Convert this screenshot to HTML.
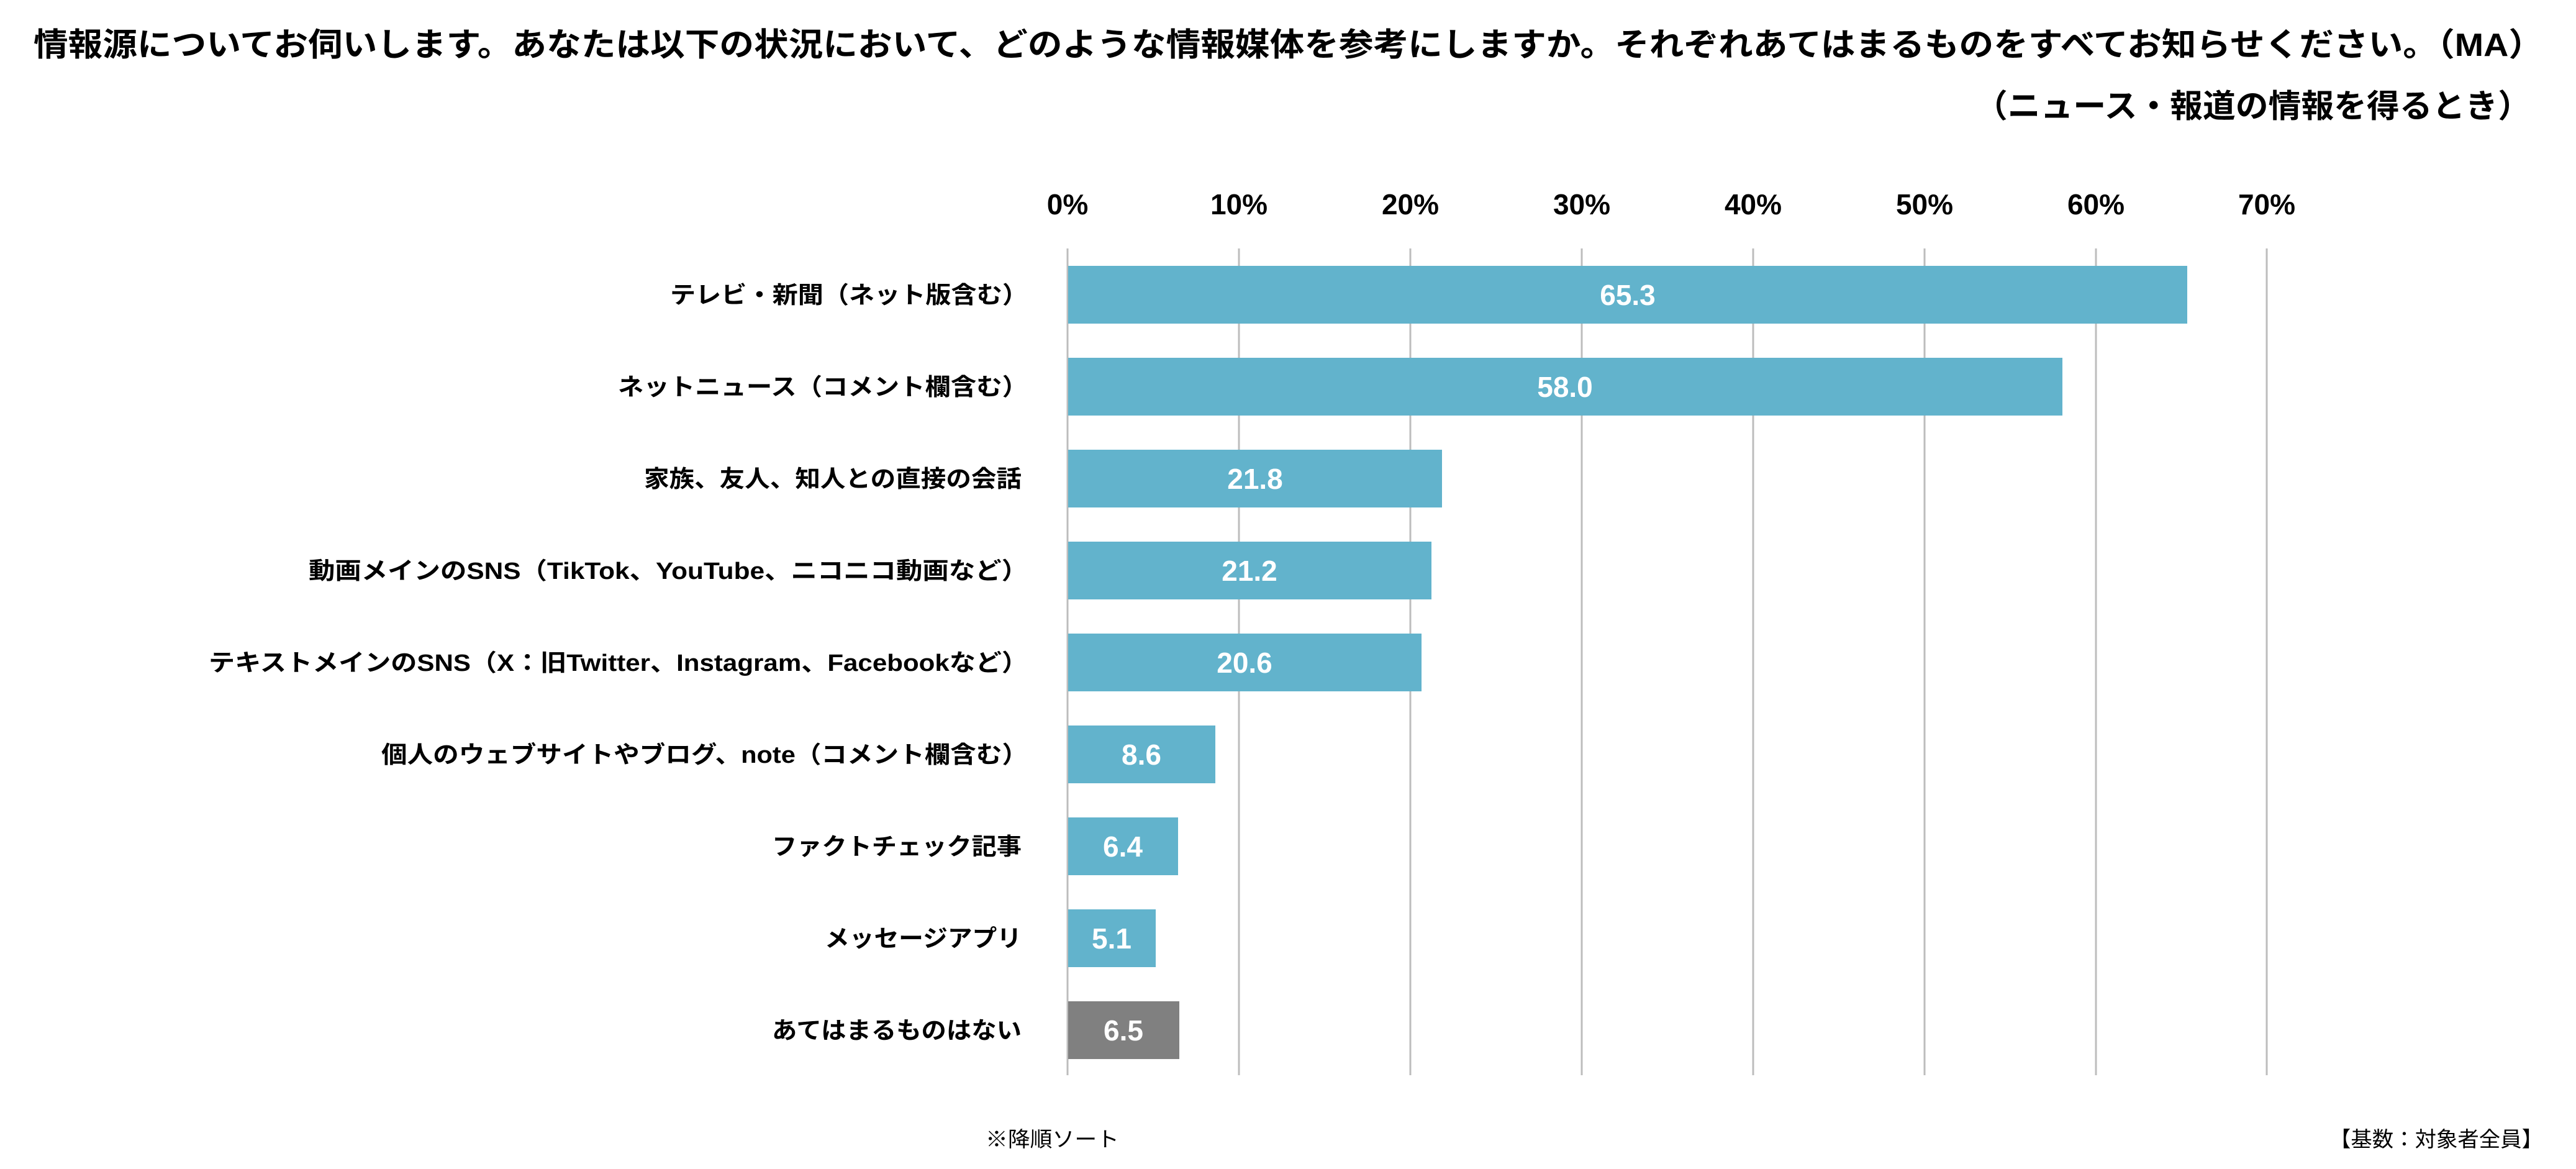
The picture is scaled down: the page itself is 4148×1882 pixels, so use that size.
<!DOCTYPE html>
<html><head><meta charset="utf-8"><style>
html,body{margin:0;padding:0;background:#fff;}
svg{display:block;}
text{font-family:"Liberation Sans","Noto Sans CJK JP",sans-serif;}
</style></head><body>
<svg width="4148" height="1882" viewBox="0 0 4148 1882" xmlns="http://www.w3.org/2000/svg">
<rect width="4148" height="1882" fill="#fff"/>
<g font-weight="bold" fill="#000">
<text x="54" y="90" font-size="52" textLength="4041" lengthAdjust="spacingAndGlyphs">情報源についてお伺いします。あなたは以下の状況において、どのような情報媒体を参考にしますか。それぞれあてはまるものをすべてお知らせください。（MA）</text>
<text x="3180" y="189" font-size="52" textLength="895" lengthAdjust="spacingAndGlyphs">（ニュース・報道の情報を得るとき）</text>
</g>
<g stroke="#bdbdbd" stroke-width="3">
<line x1="1719" y1="400" x2="1719" y2="1731"/>
<line x1="1995" y1="400" x2="1995" y2="1731"/>
<line x1="2271" y1="400" x2="2271" y2="1731"/>
<line x1="2547" y1="400" x2="2547" y2="1731"/>
<line x1="2823" y1="400" x2="2823" y2="1731"/>
<line x1="3099" y1="400" x2="3099" y2="1731"/>
<line x1="3375" y1="400" x2="3375" y2="1731"/>
<line x1="3650" y1="400" x2="3650" y2="1731"/>
</g>
<g font-weight="bold" font-size="46" text-anchor="middle" fill="#000">
<text x="1719" y="345">0%</text>
<text x="1995" y="345">10%</text>
<text x="2271" y="345">20%</text>
<text x="2547" y="345">30%</text>
<text x="2823" y="345">40%</text>
<text x="3099" y="345">50%</text>
<text x="3375" y="345">60%</text>
<text x="3650" y="345">70%</text>
</g>
<g fill="#62b3cc">
<rect x="1720" y="428" width="1802" height="93"/>
<rect x="1720" y="576" width="1601" height="93"/>
<rect x="1720" y="724" width="602" height="93"/>
<rect x="1720" y="872" width="585" height="93"/>
<rect x="1720" y="1020" width="569" height="93"/>
<rect x="1720" y="1168" width="237" height="93"/>
<rect x="1720" y="1316" width="177" height="93"/>
<rect x="1720" y="1464" width="141" height="93"/>
</g>
<rect x="1720" y="1612" width="179" height="93" fill="#808080"/>
<g font-weight="bold" font-size="46" text-anchor="middle" fill="#fff">
<text x="2621" y="491">65.3</text>
<text x="2520" y="639">58.0</text>
<text x="2021" y="787">21.8</text>
<text x="2012" y="935">21.2</text>
<text x="2004" y="1083">20.6</text>
<text x="1838" y="1231">8.6</text>
<text x="1808" y="1379">6.4</text>
<text x="1790" y="1527">5.1</text>
<text x="1809" y="1675">6.5</text>
</g>
<g font-weight="bold" font-size="38" fill="#000">
<text x="1079" y="488" textLength="576" lengthAdjust="spacingAndGlyphs">テレビ・新聞（ネット版含む）</text>
<text x="995" y="636" textLength="660" lengthAdjust="spacingAndGlyphs">ネットニュース（コメント欄含む）</text>
<text x="1037" y="784" textLength="608" lengthAdjust="spacingAndGlyphs">家族、友人、知人との直接の会話</text>
<text x="497" y="932" textLength="1158" lengthAdjust="spacingAndGlyphs">動画メインのSNS（TikTok、YouTube、ニコニコ動画など）</text>
<text x="336" y="1080" textLength="1319" lengthAdjust="spacingAndGlyphs">テキストメインのSNS（X：旧Twitter、Instagram、Facebookなど）</text>
<text x="614" y="1228" textLength="1041" lengthAdjust="spacingAndGlyphs">個人のウェブサイトやブログ、note（コメント欄含む）</text>
<text x="1243" y="1376" textLength="402" lengthAdjust="spacingAndGlyphs">ファクトチェック記事</text>
<text x="1328" y="1524" textLength="317" lengthAdjust="spacingAndGlyphs">メッセージアプリ</text>
<text x="1243" y="1672" textLength="402" lengthAdjust="spacingAndGlyphs">あてはまるものはない</text>
</g>
<g font-size="34" fill="#000">
<text x="1587" y="1846" textLength="215" lengthAdjust="spacingAndGlyphs">※降順ソート</text>
<text x="3751" y="1846" textLength="344" lengthAdjust="spacingAndGlyphs">【基数：対象者全員】</text>
</g>
</svg>
</body></html>
